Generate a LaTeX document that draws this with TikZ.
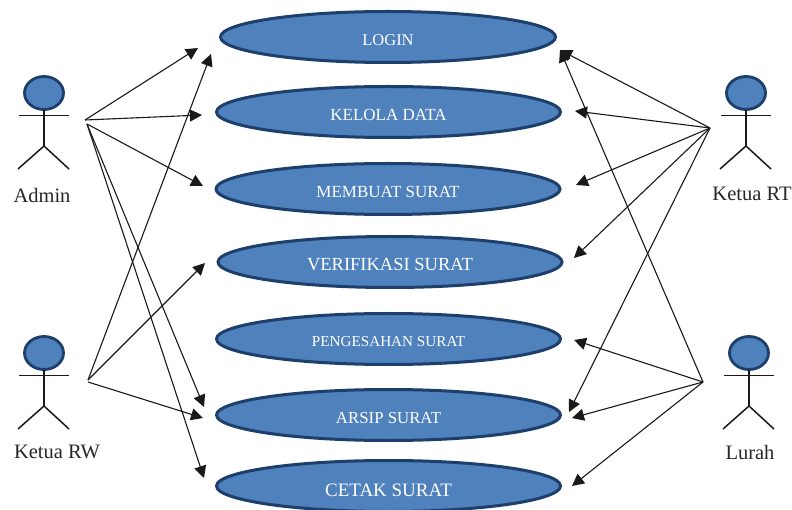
\documentclass[tikz,border=0pt]{standalone}
\usepackage{fontspec}
\setmainfont{Liberation Serif}
\usetikzlibrary{arrows.meta,shapes.geometric}
\definecolor{ucfill}{HTML}{4F81BD}
\definecolor{ucline}{HTML}{1C3F6B}
\tikzset{
  usecase/.style={ellipse,draw=ucline,fill=ucfill,line width=3pt,minimum width=#1,minimum height=51pt,inner sep=0pt,text=white,align=center},
  usecase/.default=344pt,
  head/.style={ellipse,draw=ucline,fill=ucfill,line width=2.8pt,minimum width=39pt,minimum height=33pt,inner sep=0pt},
  limb/.style={draw=black!90,line width=1.5pt},
  actorname/.style={text=black!85,font=\fontsize{20.5}{22}\selectfont,inner sep=0pt},
  assoc/.style={draw=black!90,line width=1.1pt,-{Triangle[length=12pt,width=12pt]}},
}
\newcommand{\stick}[2]{%
  \draw[limb] (#1-25,#2+22.5) -- (#1+25,#2+22.5);
  \draw[limb] (#1,#2+17) -- (#1,#2+53);
  \draw[limb] (#1-26,#2+76) -- (#1,#2+53) -- (#1+25,#2+76);
}
\newcommand{\uctext}[3][8.5pt]{\smash{\raisebox{-#1}{\fontsize{#2}{#2}\selectfont #3}}}
\begin{document}
\begin{tikzpicture}[x=1pt,y=-1pt]
\useasboundingbox (0,0) rectangle (792,510);
% use cases
\node[usecase=335pt] (login) at (388,37) {\uctext{16.5}{LOGIN}};
\node[usecase] (kelola) at (388.5,112) {\uctext{17}{KELOLA DATA}};
\node[usecase] (membuat) at (388,189) {\uctext{17}{MEMBUAT SURAT}};
\node[usecase] (verif) at (390,262) {\uctext[9pt]{18.5}{VERIFIKASI SURAT}};
\node[usecase] (sah) at (388.5,339) {\uctext[7.5pt]{15.2}{PENGESAHAN SURAT}};
\node[usecase] (arsip) at (388.5,415) {\uctext{16.8}{ARSIP SURAT}};
\node[usecase] (cetak) at (388.5,486) {\uctext[10pt]{19}{CETAK SURAT}};
% actors
\node[head] (hAdmin) at (44,93) {};
\stick{44}{93}
\node[actorname] (admin) at (42,195) {Admin};
\node[head] (hRT) at (746,93) {};
\stick{746}{93}
\node[actorname] (rt) at (752,194) {Ketua RT};
\node[head] (hRW) at (44,353) {};
\stick{44}{353}
\node[actorname] (rw) at (57,452) {Ketua RW};
\node[head] (hLurah) at (749,353) {};
\stick{749}{353}
\node[actorname] (lurah) at (750,452) {Lurah};
% anchors of the free connector ends
\coordinate (a1) at (85,120);
\coordinate (a2) at (87,124);
\coordinate (w1) at (88,380);
\coordinate (w2) at (88,382);
\coordinate (t) at (710,128);
\coordinate (l) at (703,382);
\coordinate (loginL) at (198,48);
\coordinate (loginB) at (211,54);
\coordinate (loginR) at (560,50);
\coordinate (kelolaL) at (202,115);
\coordinate (kelolaR) at (575,111);
\coordinate (membuatL) at (203,186);
\coordinate (membuatR) at (576,185);
\coordinate (verifL) at (205,263);
\coordinate (verifR) at (574,258);
\coordinate (sahR) at (574,340);
\coordinate (arsipLa) at (204,407);
\coordinate (arsipLb) at (203,418);
\coordinate (arsipRa) at (569,412);
\coordinate (arsipRb) at (572,418);
\coordinate (cetakL) at (204,478);
\coordinate (cetakR) at (572,486);
% associations
\draw[assoc] (a1) -- (loginL);
\draw[assoc] (a1) -- (kelolaL);
\draw[assoc] (a2) -- (membuatL);
\draw[assoc] (a2) -- (arsipLa);
\draw[assoc] (a2) -- (cetakL);
\draw[assoc] (w1) -- (loginB);
\draw[assoc] (w1) -- (verifL);
\draw[assoc] (w2) -- (arsipLb);
\draw[assoc] (t) -- (loginR);
\draw[assoc] (t) -- (kelolaR);
\draw[assoc] (t) -- (membuatR);
\draw[assoc] (t) -- (verifR);
\draw[assoc] (t) -- (arsipRa);
\draw[assoc] (l) -- (loginR);
\draw[assoc] (l) -- (sahR);
\draw[assoc] (l) -- (arsipRb);
\draw[assoc] (l) -- (cetakR);
\end{tikzpicture}
\end{document}
